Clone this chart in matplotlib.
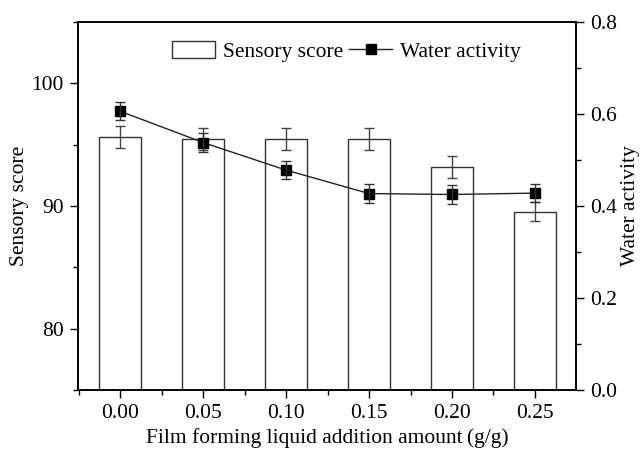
import numpy as np
import matplotlib
matplotlib.use("Agg")
import matplotlib.pyplot as plt
from matplotlib.ticker import MultipleLocator

plt.rcParams['font.family'] = ['Liberation Serif', 'DejaVu Serif']

# data
amount = [0.00, 0.05, 0.10, 0.15, 0.20, 0.25]
tick_labels = ["0.00", "0.05", "0.10", "0.15", "0.20", "0.25"]
sensory = [95.6, 95.45, 95.45, 95.45, 93.2, 89.55]
sensory_err = [0.9, 0.9, 0.9, 0.9, 0.9, 0.75]
water = [0.606, 0.538, 0.478, 0.427, 0.425, 0.428]
water_err = [0.02, 0.02, 0.02, 0.02, 0.02, 0.02]

fig = plt.figure(figsize=(6.43, 4.58), dpi=100)
ax = fig.add_axes([0.121, 0.1485, 0.775, 0.8035])
ax2 = ax.twinx()

bars = ax.bar(amount, sensory, width=0.025, color='white', edgecolor='#333333',
              linewidth=1.0, label='Sensory score')
ax.errorbar(amount, sensory, yerr=sensory_err, fmt='none', ecolor='#444444',
            elinewidth=1.0, capsize=3.5, capthick=1.0)

line, = ax2.plot(amount, water, color='#222222', lw=1.0, marker='s', ms=6.5,
                 mfc='black', mec='black', label='Water activity')
ax2.errorbar(amount, water, yerr=water_err, fmt='none', ecolor='#333333',
             elinewidth=1.0, capsize=3.5, capthick=1.0)

ax.set_xlim(-0.0255, 0.2748)
ax.set_ylim(75, 105)
ax2.set_ylim(0, 0.8)

ax.set_xticks(amount)
ax.set_xticklabels(tick_labels)
ax.xaxis.set_minor_locator(MultipleLocator(0.025))
ax.yaxis.set_major_locator(MultipleLocator(10))
ax.yaxis.set_minor_locator(MultipleLocator(5))
ax2.yaxis.set_major_locator(MultipleLocator(0.2))
ax2.yaxis.set_minor_locator(MultipleLocator(0.1))
ax2.yaxis.set_major_formatter(matplotlib.ticker.FormatStrFormatter('%.1f'))

fs = 15.5
for a in (ax, ax2):
    a.tick_params(which='major', direction='out', length=6, width=1.0, labelsize=fs, pad=4)
    a.tick_params(which='minor', direction='out', length=3.5, width=1.0)
    for s in a.spines.values():
        s.set_linewidth(1.2)
ax.tick_params(top=False, right=False, which='both')
ax2.tick_params(axis='y', which='both', right=True, left=False)

ax.set_xlabel('Film forming liquid addition amount\u2009(g/g)', fontsize=fs, labelpad=4)
ax.set_ylabel('Sensory score', fontsize=fs, labelpad=2)
ax2.set_ylabel('Water activity', fontsize=fs, labelpad=3)

ax2.legend([bars, line], ['Sensory score', 'Water activity'], ncol=2,
           frameon=False, loc='upper left', bbox_to_anchor=(0.15, 1.0),
           fontsize=fs, handlelength=2.0, handleheight=0.8,
           columnspacing=0.3, handletextpad=0.35, borderaxespad=0.5)

fig.savefig('out.png', dpi=100)
